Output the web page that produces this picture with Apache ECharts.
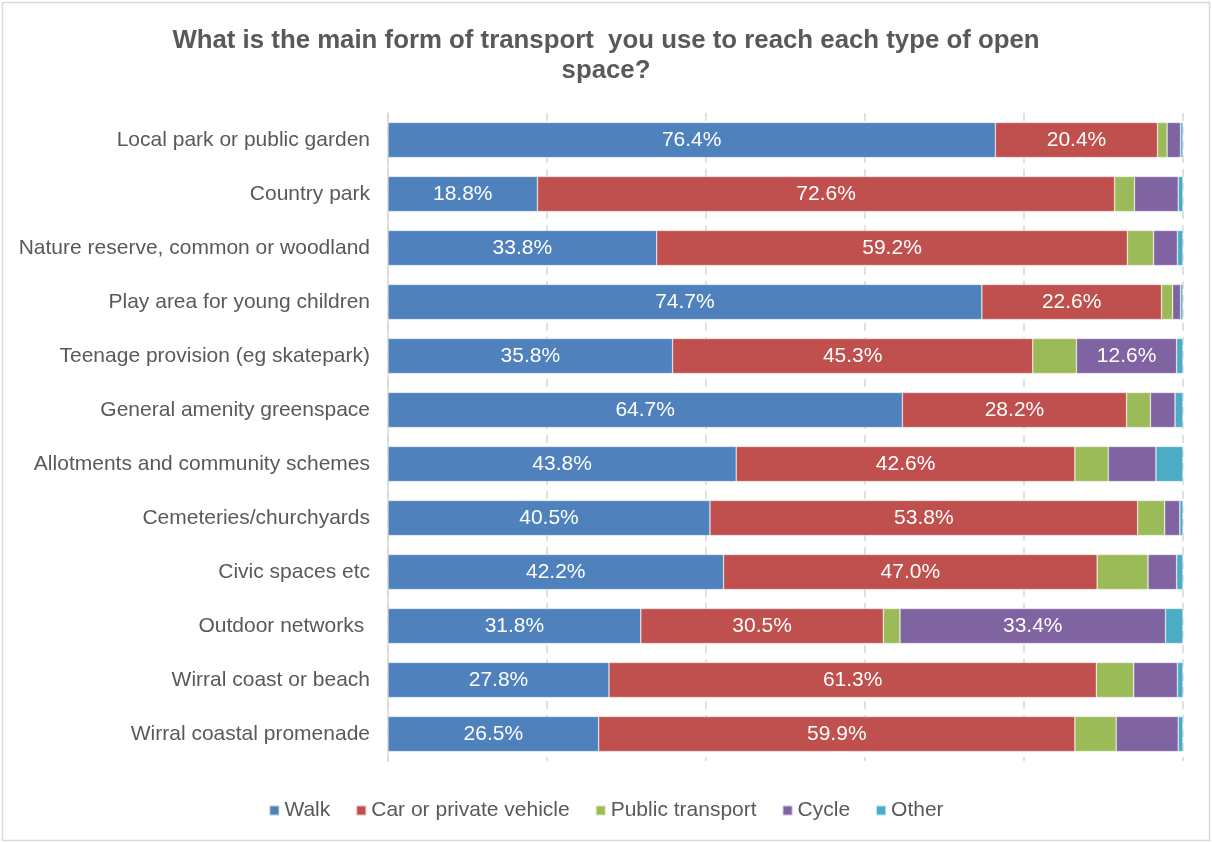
<!DOCTYPE html>
<html>
<head>
<meta charset="utf-8">
<script src="https://cdn.jsdelivr.net/npm/echarts@6/dist/echarts.min.js"></script>
<style>
html,body{margin:0;padding:0;background:#fff;}
#chart{width:1212px;height:843px;}
</style>
</head>
<body>
<div id="chart"></div>
<script>
const categories = [
  "Local park or public garden",
  "Country park",
  "Nature reserve, common or woodland",
  "Play area for young children",
  "Teenage provision (eg skatepark)",
  "General amenity greenspace",
  "Allotments and community schemes",
  "Cemeteries/churchyards",
  "Civic spaces etc",
  "Outdoor networks ",
  "Wirral coast or beach",
  "Wirral coastal promenade"
];
const walk      = [76.4, 18.8, 33.8, 74.7, 35.8, 64.7, 43.8, 40.5, 42.2, 31.8, 27.8, 26.5];
const car       = [20.4, 72.6, 59.2, 22.6, 45.3, 28.2, 42.6, 53.8, 47.0, 30.5, 61.3, 59.9];
const publicTr  = [1.2, 2.5, 3.3, 1.4, 5.5, 3.0, 4.2, 3.4, 6.4, 2.1, 4.7, 5.2];
const cycle     = [1.7, 5.5, 3.0, 1.0, 12.6, 3.1, 6.0, 1.9, 3.6, 33.4, 5.5, 7.8];
const other     = [0.3, 0.6, 0.7, 0.3, 0.8, 1.0, 3.4, 0.4, 0.8, 2.2, 0.7, 0.6];

const seriesDefs = [
  {name: "Walk", data: walk, color: "#4f81bd"},
  {name: "Car or private vehicle", data: car, color: "#c0504d"},
  {name: "Public transport", data: publicTr, color: "#9bbb59"},
  {name: "Cycle", data: cycle, color: "#8064a2"},
  {name: "Other", data: other, color: "#4bacc6"}
];

const font = "'Liberation Sans', Arial, sans-serif";
const chart = echarts.init(document.getElementById('chart'), null, {renderer: 'canvas'});
chart.setOption({
  animation: false,
  backgroundColor: '#fff',
  title: {
    text: "What is the main form of transport  you use to reach each type of open\nspace?",
    left: 'center',
    top: 21,
    textStyle: {fontFamily: font, fontSize: 25.8, fontWeight: 'bold', color: '#595959', lineHeight: 30}
  },
  graphic: [{
    type: 'rect',
    shape: {x: 2.5, y: 2.5, width: 1207, height: 838},
    style: {fill: 'none', stroke: '#d9d9d9', lineWidth: 1.5},
    silent: true
  }],
  legend: {
    top: 795,
    left: 'center',
    itemWidth: 10,
    itemHeight: 10,
    itemGap: 25,
    icon: 'rect',
    textStyle: {fontFamily: font, fontSize: 21, color: '#595959', padding: [0, 0, 0, 0]},
    data: seriesDefs.map(s => s.name)
  },
  grid: {left: 388, right: 29, top: 113, bottom: 82, containLabel: false},
  xAxis: {
    type: 'value',
    min: 0, max: 100, interval: 20,
    axisLabel: {show: false},
    axisLine: {show: false},
    axisTick: {show: false},
    splitLine: {show: true, lineStyle: {color: '#d9d9d9', type: [8, 6], width: 1.5}}
  },
  yAxis: {
    type: 'category',
    inverse: true,
    data: categories,
    axisLine: {show: true, lineStyle: {color: '#d9d9d9', width: 1.5}},
    axisTick: {show: false},
    axisLabel: {fontFamily: font, fontSize: 21, color: '#595959', margin: 18}
  },
  series: seriesDefs.map(s => ({
    name: s.name,
    type: 'bar',
    stack: 'total',
    barCategoryGap: '35%',
    data: s.data,
    itemStyle: {color: s.color, borderColor: 'rgba(255,255,255,0.6)', borderWidth: 0.6},
    label: {
      show: true,
      position: 'inside',
      fontFamily: font,
      fontSize: 21,
      color: '#ffffff',
      formatter: p => p.value >= 10 ? p.value.toFixed(1) + '%' : ''
    }
  }))
});
</script>
</body>
</html>
